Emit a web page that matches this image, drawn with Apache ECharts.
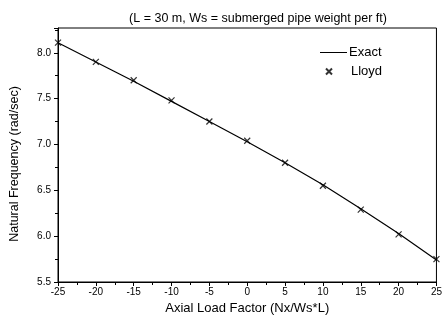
<!DOCTYPE html>
<html><head><meta charset="utf-8">
<script src="https://cdn.jsdelivr.net/npm/echarts@6/dist/echarts.min.js"></script>
<style>html,body{margin:0;padding:0;background:#fff}#c{width:445px;height:320px}</style>
</head><body><div id="c"></div>
<script>
var xValues = [-25, -20, -15, -10, -5, 0, 5, 10, 15, 20, 25];
var exactValues = [8.11, 7.90, 7.69, 7.47, 7.25, 7.03, 6.80, 6.56, 6.30, 6.03, 5.74];
var lloydValues = [8.11, 7.90, 7.70, 7.48, 7.25, 7.04, 6.80, 6.55, 6.29, 6.02, 5.75];
var titleText = '(L = 30 m, Ws = submerged pipe weight per ft)';
var xName = 'Axial Load Factor (Nx/Ws*L)';
var yName = 'Natural Frequency (rad/sec)';

function pairs(xs, ys){ return xs.map(function(x,i){ return [x, ys[i]]; }); }
var font = 'Liberation Sans, Arial, sans-serif';
var chart = echarts.init(document.getElementById('c'), null, {renderer:'canvas'});
chart.setOption({
  animation: false,
  backgroundColor: '#fff',
  title: { text: titleText, left: 253, top: 7, textAlign: 'center',
    textStyle: { fontFamily: font, fontSize: 12.5, fontWeight: 'normal', color: '#000' } },
  legend: [
    { data: [{ name: 'Exact', icon: 'rect' }], left: 315, top: 41, itemWidth: 27, itemHeight: 1, itemGap: 0,
      textStyle: { fontFamily: font, fontSize: 13, color: '#000', padding: [0,0,0,-3] } },
    { data: ['Lloyd'], left: 320, top: 60, itemWidth: 6, itemHeight: 6, itemGap: 0,
      textStyle: { fontFamily: font, fontSize: 13, color: '#000', padding: [0,0,0,14] } }
  ],
  grid: { left: 52, right: 3, top: 28, bottom: 38, show: true, borderColor: '#000', borderWidth: 1 },
  xAxis: {
    type: 'value', min: -25, max: 25, interval: 5,
    name: xName, nameLocation: 'middle', nameGap: 20,
    nameTextStyle: { fontFamily: font, fontSize: 13, color: '#000' },
    axisLine: { onZero: false, lineStyle: { color: '#000', width: 1 } },
    axisTick: { show: true, inside: false, length: 4, lineStyle: { color: '#000' } },
    minorTick: { show: true, splitNumber: 2, length: 3, lineStyle: { color: '#000' } },
    axisLabel: { fontFamily: font, fontSize: 10, color: '#000', margin: 5 },
    splitLine: { show: false }
  },
  yAxis: {
    type: 'value', min: 5.5, max: 8.27, interval: 0.5,
    name: yName, nameLocation: 'middle', nameGap: 37,
    nameTextStyle: { fontFamily: font, fontSize: 12.5, color: '#000', padding: [0, 18, 0, 0] },
    axisLine: { show: true, onZero: false, lineStyle: { color: '#000', width: 1 } },
    axisTick: { show: true, inside: false, length: 4, lineStyle: { color: '#000' } },
    minorTick: { show: true, splitNumber: 2, length: 3, lineStyle: { color: '#000' } },
    axisLabel: { fontFamily: font, fontSize: 10, color: '#000', margin: 7,
      formatter: function(v){ return Math.abs(v*2 - Math.round(v*2)) < 1e-6 ? v.toFixed(1) : ''; } },
    splitLine: { show: false }
  },
  series: [
    { name: 'Exact', type: 'line', data: pairs(xValues, exactValues), symbol: 'none',
      smooth: false, lineStyle: { color: '#000', width: 1.2 }, itemStyle: { color: '#000' } },
    { name: 'Lloyd', type: 'scatter', data: pairs(xValues, lloydValues),
      symbol: 'path://M0,0L10,10M10,0L0,10', symbolSize: 6,
      itemStyle: { color: 'rgba(0,0,0,0)', borderColor: '#000', borderWidth: 1.2 } }
  ]
});
</script></body></html>
